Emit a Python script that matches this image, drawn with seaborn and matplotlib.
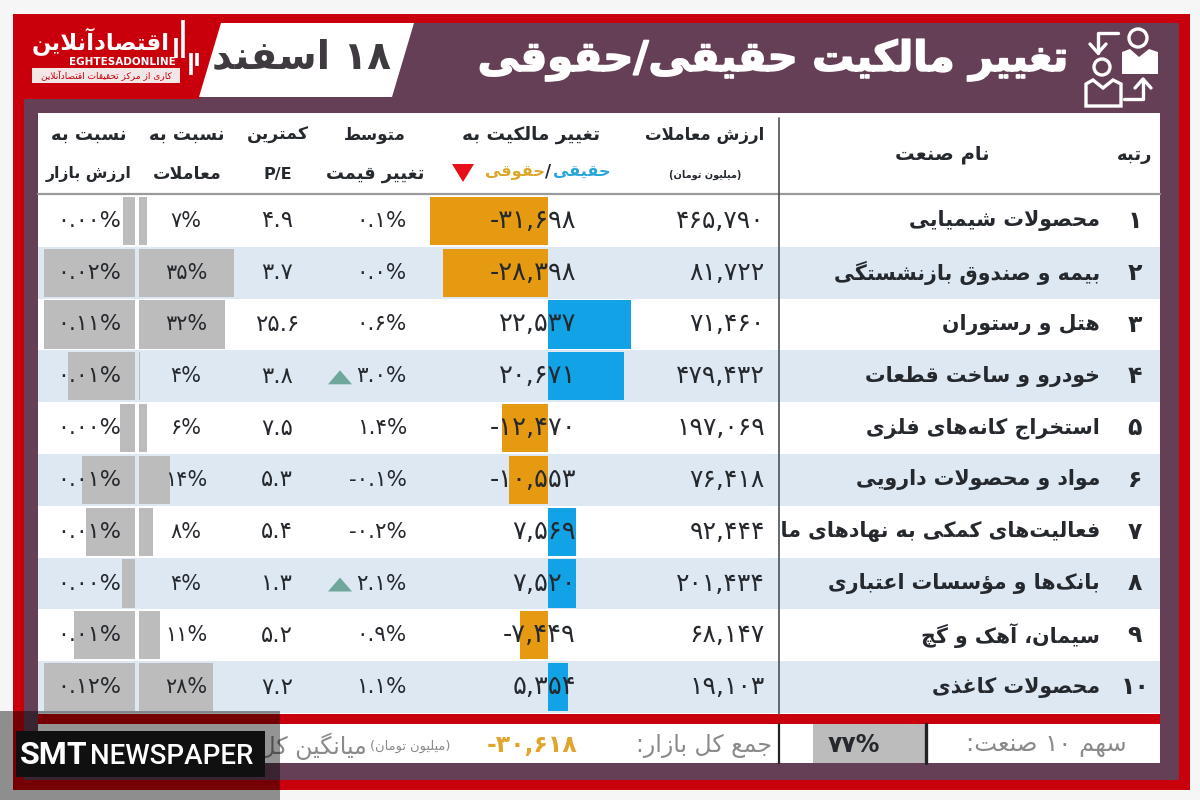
#!/usr/bin/env python3
"""Change of real/legal ownership by industry, redrawn with seaborn."""

import re

import matplotlib
matplotlib.use("Agg")
import matplotlib.patheffects as pe
import matplotlib.pyplot as plt
from matplotlib.patches import Circle, Polygon, Rectangle
import pandas as pd
import seaborn as sns

# ---- data ----
industries = [
    "محصولات شیمیایی",
    "بیمه و صندوق بازنشستگی",
    "هتل و رستوران",
    "خودرو و ساخت قطعات",
    "استخراج کانه\u200cهای فلزی",
    "مواد و محصولات دارویی",
    "فعالیت\u200cهای کمکی به نهادهای مالی واسط",
    "بانک\u200cها و مؤسسات اعتباری",
    "سیمان، آهک و گچ",
    "محصولات کاغذی",
]
ranks = list(range(1, 11))
trade_value = [465790, 81722, 71460, 479432, 197069, 76418, 92444, 201434, 68147, 19103]
ownership_change = [-31698, -28398, 22537, 20671, -12470, -10553, 7569, 7520, -7449, 5354]
price_change = [0.1, 0.0, 0.6, 3.0, 1.4, -0.1, -0.2, 2.1, 0.9, 1.1]
min_pe = [4.9, 3.7, 25.6, 3.8, 7.5, 5.3, 5.4, 1.3, 5.2, 7.2]
trade_share = [7, 35, 32, 4, 6, 14, 8, 4, 11, 28]
market_share = [0.00, 0.02, 0.11, 0.01, 0.00, 0.01, 0.01, 0.00, 0.01, 0.12]
# hidden precision behind the rounded labels
trade_bar = [6.7, 35, 32, 4.2, 6.6, 14, 8.4, 3.9, 10.9, 28]
market_bar = [13, 100, 100, 74, 16, 58, 54, 14, 67, 100]  # % of longest bar
total_change = -30618
top10_share = 77

# ---- colours ----
PURPLE = "#653f55"
RED = "#c9000c"
ORANGE = "#e59a12"
BLUE = "#12a2e6"
GREY = "#bcbcbc"
BAND = "#dde8f3"
INK = "#25292e"
SOFT = "#8a8a8a"

# ---- layout in pixels of the 1200x800 picture ----
ROW_TOP = 195
ROW_H = 51.8
ROW_BOTTOM = ROW_TOP + 10 * ROW_H


def run(first, count):
    return tuple(chr(first + i) for i in range(count))


FORMS = {
    "ا": run(0xFE8D, 2), "آ": run(0xFE81, 2), "ؤ": run(0xFE85, 2),
    "د": run(0xFEA9, 2), "ذ": run(0xFEAB, 2), "ر": run(0xFEAD, 2),
    "ز": run(0xFEAF, 2), "ژ": run(0xFB8A, 2), "و": run(0xFEED, 2),
    "ب": run(0xFE8F, 4), "پ": run(0xFB56, 4), "ت": run(0xFE95, 4),
    "ث": run(0xFE99, 4), "ج": run(0xFE9D, 4), "چ": run(0xFB7A, 4),
    "ح": run(0xFEA1, 4), "خ": run(0xFEA5, 4), "س": run(0xFEB1, 4),
    "ش": run(0xFEB5, 4), "ص": run(0xFEB9, 4), "ض": run(0xFEBD, 4),
    "ط": run(0xFEC1, 4), "ظ": run(0xFEC5, 4), "ع": run(0xFEC9, 4),
    "غ": run(0xFECD, 4), "ف": run(0xFED1, 4), "ق": run(0xFED5, 4),
    "ک": run(0xFB8E, 4), "گ": run(0xFB92, 4), "ل": run(0xFEDD, 4),
    "م": run(0xFEE1, 4), "ن": run(0xFEE5, 4), "ه": run(0xFEE9, 4),
    "ی": run(0xFBFC, 4),
}
PERSIAN_DIGITS = str.maketrans("0123456789", "۰۱۲۳۴۵۶۷۸۹")


def fa(text):
    """Shape Persian text and put it in visual order, matplotlib does neither."""
    text = text.replace("لا", "\uFEFB").replace("لآ", "\uFEF5")
    out = []
    for i, ch in enumerate(text):
        prev = text[i - 1] if i else ""
        nxt = text[i + 1] if i + 1 < len(text) else ""
        joined = prev in FORMS and len(FORMS[prev]) == 4
        if ch in "\uFEFB\uFEF5":
            out.append(chr(ord(ch) + 1) if joined else ch)
        elif ch in FORMS:
            forms = FORMS[ch]
            if len(forms) == 2:
                out.append(forms[1] if joined else forms[0])
            else:
                goes_on = nxt != "" and (nxt in FORMS or nxt in "\uFEFB\uFEF5")
                if joined and goes_on:
                    out.append(forms[3])
                elif joined:
                    out.append(forms[1])
                elif goes_on:
                    out.append(forms[2])
                else:
                    out.append(forms[0])
        elif ch != "\u200c":
            out.append({"(": ")", ")": "("}.get(ch, ch))
    visual = "".join(reversed(out))
    return re.sub("[۰-۹]+", lambda m: m.group()[::-1], visual)


def num(value, fmt=",d"):
    return format(value, fmt).translate(PERSIAN_DIGITS)


sns.set_theme(style="white")
plt.rcParams["font.family"] = ["DejaVu Sans"]

fig = plt.figure(figsize=(12, 8), dpi=100, facecolor="#f6f6f6")


def px_axes(x0, y0, x1, y1, zorder=1):
    ax = fig.add_axes([x0 / 1200, 1 - y1 / 800, (x1 - x0) / 1200, (y1 - y0) / 800],
                      zorder=zorder)
    ax.patch.set_alpha(0)
    return ax


# ---- background layer: frame, panels, rows ----
bg = px_axes(0, 0, 1200, 800, zorder=0)
bg.set_xlim(0, 1200)
bg.set_ylim(800, 0)
bg.axis("off")
bg.add_patch(Rectangle((13, 14), 1177, 776, color=RED, lw=0))
bg.add_patch(Rectangle((24, 23), 1155, 757, color=PURPLE, lw=0))
bg.add_patch(Polygon([(24, 23), (222, 23), (199, 99), (24, 99)], color=RED, lw=0))
bg.add_patch(Polygon([(221, 23), (414, 23), (392, 97), (199, 97)], color="white", lw=0))
bg.add_patch(Rectangle((38, 113), 1122, 650, color="white", lw=0))
for i in ranks:
    if i % 2 == 0:
        bg.add_patch(Rectangle((38, ROW_TOP + (i - 1) * ROW_H), 1122, ROW_H, color=BAND, lw=0))
bg.plot([38, 1160], [194, 194], color="#9a9a9a", lw=1.6)
bg.add_patch(Rectangle((38, 714), 1122, 10, color=RED, lw=0))
bg.add_patch(Rectangle((813, 724), 112, 39, color=GREY, lw=0))
bg.plot([779, 779], [118, 714], color="#4a5056", lw=1.2)
bg.plot([779, 779], [724, 763], color="#222222", lw=1.6)
bg.plot([926, 926], [724, 763], color="#222222", lw=2.4)

# ---- bars ----
frame = pd.DataFrame({
    "rank": [str(r) for r in ranks],
    "change": ownership_change,
    "side": ["legal" if v < 0 else "real" for v in ownership_change],
    "trade": trade_bar,
    "market": market_bar,
})
order = frame["rank"].tolist()

ax_change = px_axes(430, ROW_TOP, 634, ROW_BOTTOM)
sns.barplot(data=frame, y="rank", x="change", hue="side", order=order, orient="h",
            palette={"legal": ORANGE, "real": BLUE}, dodge=False, legend=False,
            width=0.93, saturation=1, linewidth=0, ax=ax_change)
ax_change.set_xlim(-31811, 23324)

ax_trade = px_axes(139, ROW_TOP, 234, ROW_BOTTOM)
sns.barplot(data=frame, y="rank", x="trade", order=order, orient="h", color=GREY,
            width=0.93, saturation=1, linewidth=0, ax=ax_trade)
ax_trade.set_xlim(3.95, 35)

ax_market = px_axes(44, ROW_TOP, 135, ROW_BOTTOM)
sns.barplot(data=frame, y="rank", x="market", order=order, orient="h", color=GREY,
            width=0.93, saturation=1, linewidth=0, ax=ax_market)
ax_market.set_xlim(100, 0)

for ax in (ax_change, ax_trade, ax_market):
    ax.set_ylim(9.5, -0.5)
    ax.axis("off")

# ---- foreground layer: all the text ----
fg = px_axes(0, 0, 1200, 800, zorder=2)
fg.set_xlim(0, 1200)
fg.set_ylim(800, 0)
fg.axis("off")


def put(x, y, text, size=13, color=INK, ha="center", weight="normal", **kw):
    return fg.text(x, y, text, fontsize=size, color=color, ha=ha, va="center",
                   fontweight=weight, **kw)


# title strip
title = put(1068, 60, fa("تغییر مالکیت حقیقی/حقوقی"), size=30, color="white", ha="right", weight="bold")
title.set_path_effects([pe.withStroke(linewidth=1.2, foreground="white")])
put(301, 58, fa("۱۸ اسفند"), size=28, color="#3e3a3f", weight="bold")

# logo
put(101, 42, fa("اقتصادآنلاین"), size=16.5, color="white", weight="bold")
put(122, 62, "EGHTESADONLINE", size=7.5, color="white", weight="bold")
fg.add_patch(Rectangle((32, 68), 148, 15, color="#f3e6e6", lw=0))
put(106, 75.5, fa("کاری از مرکز تحقیقات اقتصادآنلاین"), size=6.5, color=RED)
for bar_x, top, bottom in [(176, 38, 58), (183, 20, 58), (191, 53, 75), (197, 53, 66)]:
    fg.plot([bar_x, bar_x], [top, bottom], color="white", lw=2.6, solid_capstyle="butt")

# icon, top right
fg.add_patch(Circle((1138, 38), 9, fill=False, ec="white", lw=2.4))
fg.add_patch(Polygon([(1122, 74), (1122, 52), (1130, 49), (1139, 57), (1149, 49),
                      (1158, 52), (1158, 74)], color="white", lw=0))
fg.add_patch(Circle((1102, 67), 8, fill=False, ec="white", lw=2.4))
fg.add_patch(Polygon([(1086, 106), (1086, 84), (1093, 80), (1103, 88), (1113, 80),
                      (1121, 84), (1121, 106)], fill=False, ec="white", lw=2.4))
fg.plot([1118, 1098, 1098], [33, 33, 53], color="white", lw=2.4)
fg.plot([1090, 1098, 1106], [44, 53, 44], color="white", lw=2.4)
fg.plot([1124, 1143, 1143], [99, 99, 79], color="white", lw=2.4)
fg.plot([1135, 1143, 1151], [88, 79, 88], color="white", lw=2.4)

# column headers
put(1135, 155, fa("رتبه"), size=13, weight="bold")
put(942, 154, fa("نام صنعت"), size=14, weight="bold")
put(705, 135, fa("ارزش معاملات"), size=12, weight="bold")
put(705, 175, fa("(میلیون تومان)"), size=7, weight="bold")
put(531, 135, fa("تغییر مالکیت به"), size=13.2, weight="bold")
put(611, 172, fa("حقیقی"), size=11.5, color="#2aa6d8", ha="right", weight="bold")
put(548, 172, "/", size=12, color=INK, weight="bold")
put(545, 172, fa("حقوقی"), size=11.5, color="#dba72c", ha="right", weight="bold")
fg.add_patch(Polygon([(452, 164), (474, 164), (463, 182)], color="#e8101a", lw=0))
put(375, 135, fa("متوسط"), size=12, weight="bold")
put(375, 174, fa("تغییر قیمت"), size=12.8, weight="bold")
put(278, 135, fa("کمترین"), size=12.5, weight="bold")
put(278, 174, "P/E", size=11.5, weight="bold")
put(187, 135, fa("نسبت به"), size=13, weight="bold")
put(187, 174, fa("معاملات"), size=12.5, weight="bold")
put(89, 135, fa("نسبت به"), size=13, weight="bold")
put(89, 174, fa("ارزش بازار"), size=11.3, weight="bold")

# table rows
name_clip = Rectangle((781, ROW_TOP), 380, 520, transform=fg.transData)
for i in range(10):
    y = ROW_TOP + (i + 0.5) * ROW_H
    put(1135, y, num(ranks[i]), size=17, weight="bold")
    label = put(1100, y, fa(industries[i]), size=14.8, ha="right", weight="bold")
    label.set_clip_path(name_clip)
    label.set_clip_on(True)
    put(765, y, num(trade_value[i]), size=18, ha="right")
    put(576, y, num(ownership_change[i]), size=18.5, ha="right")
    put(407, y, num(price_change[i], ".1f") + "%", size=15.5, ha="right")
    put(277, y, num(min_pe[i], ".1f"), size=16.5)
    put(186, y, num(trade_share[i]) + "%", size=15)
    put(121, y, num(market_share[i], ".2f") + "%", size=16, ha="right")
    if price_change[i] >= 2:
        fg.add_patch(Polygon([(328, y + 8), (352, y + 8), (340, y - 6)], color="#6fa79c", lw=0))

# footer
put(1046, 745, fa("سهم ۱۰ صنعت:"), size=17.5, color=SOFT)
put(854, 745, num(top10_share) + "%", size=17, weight="bold")
put(772, 746, fa("جمع کل بازار:"), size=17, color=SOFT, ha="right")
put(577, 745, num(total_change), size=17, color="#e0a52a", ha="right", weight="bold")
put(451, 746, fa("(میلیون تومان)"), size=9.4, color=SOFT, ha="right")
put(367, 746, fa("میانگین کل بازار:"), size=17, color=SOFT, ha="right")

# agency watermark over the lower left corner
fg.add_patch(Rectangle((0, 711), 280, 89, color="black", alpha=0.42, lw=0, zorder=5))
fg.add_patch(Rectangle((16, 731), 249, 46, color="#101010", lw=0, zorder=6))
put(20, 755, "SMT", size=23, color="white", ha="left", weight="bold",
    family="Roboto", zorder=7)
put(90, 757, "NEWSPAPER", size=20, color="white", ha="left", weight="medium",
    family="Roboto", zorder=7)

fig.savefig("out.png", dpi=100, facecolor=fig.get_facecolor())
plt.close(fig)
